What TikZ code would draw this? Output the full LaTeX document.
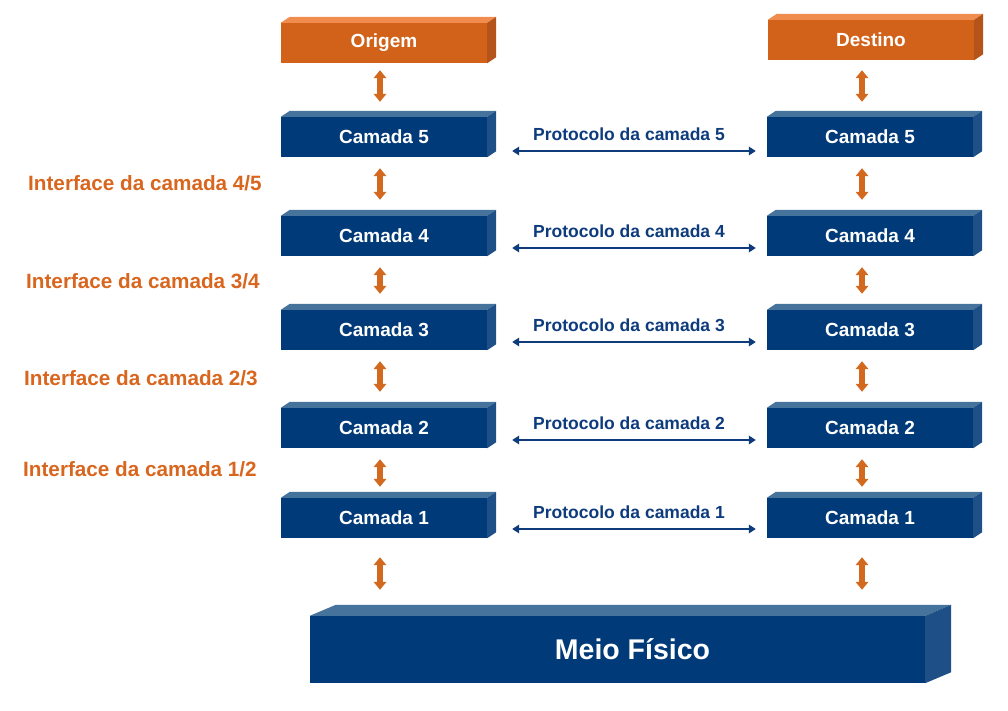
\documentclass[tikz,border=0pt]{standalone}
\usepackage{fontspec}
\setmainfont{Liberation Sans}
\usetikzlibrary{calc,arrows.meta}
\definecolor{bfront}{HTML}{003A78}
\definecolor{btop}{HTML}{46739B}
\definecolor{bside}{HTML}{1E4F86}
\definecolor{ofront}{HTML}{D2621A}
\definecolor{otop}{HTML}{F08C4E}
\definecolor{oside}{HTML}{B4531A}
\definecolor{lblue}{HTML}{0D3B7C}
\definecolor{otext}{HTML}{D9661E}
\definecolor{oarrow}{HTML}{D2691E}
\tikzset{
  layerbox/.style={fill=bfront, text=white, minimum width=206pt, minimum height=40pt, inner sep=0pt,
    font=\fontsize{19}{22}\selectfont\bfseries},
  endbox/.style={layerbox, fill=ofront},
  medbox/.style={fill=bfront, minimum width=615pt, minimum height=67pt, inner sep=0pt},
  medtext/.style={text=white, inner sep=0pt, font=\fontsize{28.5}{32}\selectfont\bfseries},
  varr/.style={draw=oarrow, line width=5.5pt, {Triangle[width=12.5pt,length=8pt]}-{Triangle[width=12.5pt,length=8pt]}},
  harr/.style={draw=lblue, line width=2.8pt, {Triangle[width=8.5pt,length=7pt]}-{Triangle[width=8.5pt,length=7pt]}},
  protlabel/.style={text=lblue, font=\fontsize{17.5}{20}\selectfont\bfseries, inner sep=0pt},
  iflabel/.style={text=otext, font=\fontsize{20.7}{24}\selectfont\bfseries, inner sep=0pt, anchor=west},
}
\newcommand{\cubefaces}[5]{% node, dx, dy, topcolor, sidecolor
  \fill[#4] (#1.north west) -- ++(#2,-#3) -- ($(#1.north east)+(#2,-#3)$) -- (#1.north east) -- cycle;
  \fill[#5] (#1.north east) -- ++(#2,-#3) -- ($(#1.south east)+(#2,-#3)$) -- (#1.south east) -- cycle;
}
\begin{document}
\begin{tikzpicture}[x=1pt,y=-1pt]
\useasboundingbox (0,0) rectangle (1008,711);
% end systems
\node[endbox] (orig) at (384,43) {Origem};
\node[endbox] (dest) at (871,40) {Destino};
\cubefaces{orig}{9}{6}{otop}{oside}
\cubefaces{dest}{9}{6}{otop}{oside}
% layers
\foreach \n/\y in {5/137,4/236,3/330,2/428,1/518}{
  \node[layerbox] (l\n) at (384,\y) {Camada \n};
  \node[layerbox] (r\n) at (870,\y) {Camada \n};
  \cubefaces{l\n}{9}{6}{btop}{bside}
  \cubefaces{r\n}{9}{6}{btop}{bside}
}
% physical medium
\node[medbox] (meio) at (617.5,649.5) {};
\cubefaces{meio}{26}{11}{btop}{bside}
\node[medtext] (meiot) at ($(meio.center)+(15,0)$) {Meio Físico};
% vertical arrows
\draw[varr] ($(orig.south)+(-4,7)$) -- ($(l5.north)+(-4,-15)$);
\draw[varr] ($(dest.south)+(-9,10)$) -- ($(r5.north)+(-8,-15)$);
\foreach \a/\b/\e in {5/4/16,4/3/16,3/2/16,2/1/11}{
  \draw[varr] ($(l\a.south)+(-4,11)$) -- ($(l\b.north)+(-4,-\e)$);
  \draw[varr] ($(r\a.south)+(-8,11)$) -- ($(r\b.north)+(-8,-\e)$);
}
\coordinate (ml) at ($(meio.north)+(0,-26)$);
\coordinate (l1b) at ($(l1.south)+(-4,19)$);
\coordinate (r1b) at ($(r1.south)+(-8,19)$);
\draw[varr] (l1b) -- (l1b |- ml);
\draw[varr] (r1b) -- (r1b |- ml);
% protocol arrows
\foreach \n/\d in {5/14,4/12,3/12,2/12,1/11}{
  \draw[harr] ($(l\n.east)+(25,\d)$) -- ($(r\n.west)+(-11,\d)$);
  \node[protlabel] (p\n) at ($(l\n.east)!0.5!(r\n.west)+(2,{\d-17})$) {Protocolo da camada \n};
}
% interface labels
\node[iflabel] (i45) at (28,183) {Interface da camada 4/5};
\node[iflabel] (i34) at (26,281) {Interface da camada 3/4};
\node[iflabel] (i23) at (24,378) {Interface da camada 2/3};
\node[iflabel] (i12) at (23,469) {Interface da camada 1/2};
\end{tikzpicture}
\end{document}
